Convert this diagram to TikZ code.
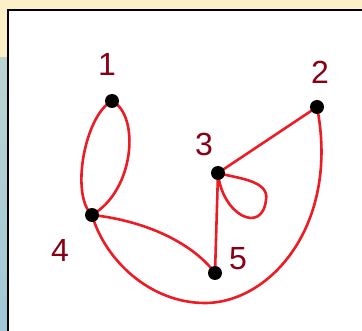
\documentclass[tikz,border=0pt]{standalone}
\usepackage{fontspec}
\setmainfont{Liberation Sans}
\pgfdeclarelayer{back}
\pgfdeclarelayer{bg}
\pgfsetlayers{back,bg,main}
\definecolor{paintred}{RGB}{237,28,36}
\definecolor{labred}{RGB}{136,0,21}
\definecolor{cream}{RGB}{251,240,200}
\definecolor{skyb}{RGB}{160,200,214}
\tikzset{
  blob/.style={circle,fill=black,minimum size=14pt,inner sep=0pt},
  edge/.style={draw=paintred,line width=2.6pt,line cap=round,line join=round},
  lab/.style={text=labred,font=\fontsize{32}{32}\selectfont,inner sep=0pt}
}
\begin{document}
\begin{tikzpicture}[x=1pt,y=-1pt]
\useasboundingbox (0,0) rectangle (362,331);
\begin{pgfonlayer}{back}
\fill[cream] (0,0) rectangle (362,331);
\shade[top color=skyb!70!cream,bottom color=skyb] (0,58) rectangle (8,331);
\fill[white] (8,10) rectangle (370,340);
\draw[black,line width=2.6pt] (370,10) -- (8,10) -- (8,340);
\end{pgfonlayer}
% nodes
\node[blob] (n1) at (112,101) {};
\node[blob] (n2) at (317,107) {};
\node[blob] (n3) at (218,173) {};
\node[blob] (n4) at (92,215) {};
\node[blob] (n5) at (215,273) {};
\node[lab] (l1) at (107,64) {1};
\node[lab] (l2) at (320,72) {2};
\node[lab] (l3) at (204,144) {3};
\node[lab] (l4) at (60,250) {4};
\node[lab] (l5) at (238,259) {5};
\coordinate (b) at (205,303);
\coordinate (lp) at (266,200);
\begin{pgfonlayer}{bg}
\draw[edge] (n1.center) .. controls (85,115) and (70,195) .. (n4.center);
\draw[edge] (n1.center) .. controls (140,115) and (135,190) .. (n4.center);
\draw[edge] (n4.center) .. controls (140,220) and (190,240) .. (n5.center);
\draw[edge] (n4.center) .. controls (105,260) and (150,303) .. (b)
  .. controls (270,303) and (340,225) .. (n2.center);
\draw[edge] (n3.center) -- (n2.center);
\draw[edge] (n3.center) -- (n5.center);
\draw[edge] (n3.center) .. controls (222,215) and (262,235) .. (lp)
  .. controls (270,180) and (235,178) .. (n3.center);
\end{pgfonlayer}
\end{tikzpicture}
\end{document}
